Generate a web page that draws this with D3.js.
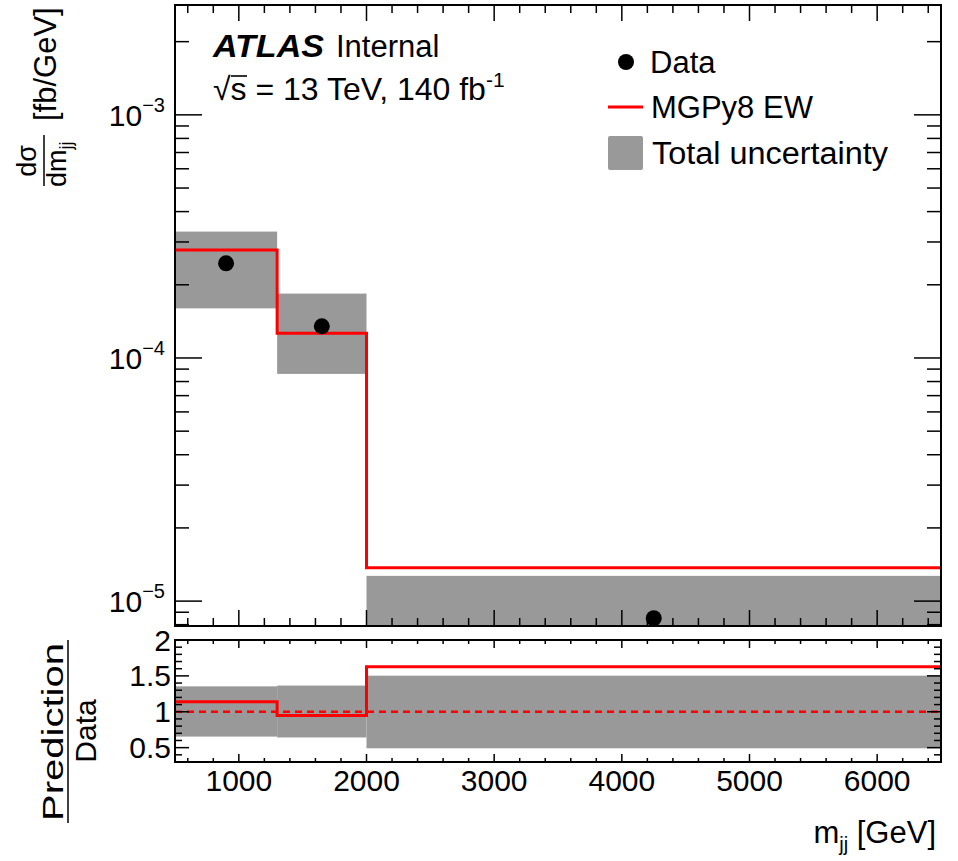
<!DOCTYPE html>
<html>
<head>
<meta charset="utf-8">
<script src="https://cdn.jsdelivr.net/npm/d3@7/dist/d3.min.js"></script>
<style>
  html, body { margin: 0; padding: 0; background: #fff; }
  svg { display: block; }
  text { font-family: "Liberation Sans", Arial, Helvetica, sans-serif; fill: #000; }
</style>
</head>
<body>
<svg id="chart" width="958" height="861"></svg>
<script>
// ---------------- data ----------------
const binEdges = [500, 1300, 2000, 6500];
const dataValues = [2.45e-4, 1.35e-4, 8.5e-6];
const dataCenters = [900, 1650, 4250];
const mcValues = [2.78e-4, 1.265e-4, 1.372e-5];
const uncUp = [3.31e-4, 1.84e-4, 1.27e-5];
const uncDown = [1.60e-4, 8.6e-5, 4.3e-6];
const ratioMC = [1.138, 0.949, 1.627];
const ratioUncUp = [1.354, 1.365, 1.503];
const ratioUncDown = [0.654, 0.642, 0.491];
const xTickLabels = [1000, 2000, 3000, 4000, 5000, 6000];
const yTickExponents = [-5, -4, -3];
const ratioTickLabels = [0.5, 1, 1.5, 2];

// ---------------- layout ----------------
const svg = d3.select("#chart");
const L = 175, R = 941;
const mainTop = 5, mainBot = 626;
const ratTop = 640, ratBot = 762;
const RED = "#ff0000", GREY = "#999999";
const FONT = 30;

const x = d3.scaleLinear().domain([500, 6500]).range([L, R]);
const y = d3.scaleLog().domain([7.9e-6, 2.83e-3]).range([mainBot, mainTop]);
const yr = d3.scaleLinear().domain([0.3, 2.0]).range([ratBot, ratTop]);

const defs = svg.append("defs");
defs.append("clipPath").attr("id", "clipMain").append("rect")
  .attr("x", L).attr("y", mainTop).attr("width", R - L).attr("height", mainBot - mainTop);
defs.append("clipPath").attr("id", "clipRat").append("rect")
  .attr("x", L).attr("y", ratTop).attr("width", R - L).attr("height", ratBot - ratTop);

const bins = d3.range(dataValues.length).map(i => ({
  lo: binEdges[i], hi: binEdges[i + 1], data: dataValues[i], c: dataCenters[i],
  mc: mcValues[i], up: uncUp[i], dn: uncDown[i],
  rmc: ratioMC[i], rup: ratioUncUp[i], rdn: ratioUncDown[i]
}));

// ---------------- main panel ----------------
const gMain = svg.append("g").attr("clip-path", "url(#clipMain)");
gMain.selectAll("rect.band").data(bins).join("rect").attr("class", "band")
  .attr("x", d => x(d.lo)).attr("width", d => x(d.hi) - x(d.lo))
  .attr("y", d => y(d.up)).attr("height", d => y(d.dn) - y(d.up))
  .attr("fill", GREY);

const stepPts = bins.map(d => [d.lo, d.mc]).concat([[binEdges[binEdges.length - 1], mcValues[mcValues.length - 1]]]);
gMain.append("path")
  .attr("d", d3.line().x(d => x(d[0])).y(d => y(d[1])).curve(d3.curveStepAfter)(stepPts))
  .attr("fill", "none").attr("stroke", RED).attr("stroke-width", 3);

// ticks main
function minorLog() {
  const out = [];
  for (let e = -6; e <= -2; e++) for (let k = 2; k <= 9; k++) {
    const v = k * Math.pow(10, e);
    if (v > y.domain()[0] && v < y.domain()[1]) out.push(v);
  }
  return out;
}
const xMajor = d3.range(1000, 6501, 1000);
const xMinor = d3.range(600, 6500, 200).filter(v => v % 1000 !== 0);
const yMajor = yTickExponents.map(e => Math.pow(10, e));
const yMinor = minorLog();

function drawTicks(g, vals, scale, orient, len, stroke) {
  const top = +g.attr("data-top"), bot = +g.attr("data-bot");
  const horiz = orient === "bottom" || orient === "top";
  g.selectAll(null).data(vals).join("line")
    .attr("x1", d => horiz ? scale(d) : (orient === "left" ? L : R))
    .attr("x2", d => horiz ? scale(d) : (orient === "left" ? L + len : R - len))
    .attr("y1", d => horiz ? (orient === "bottom" ? bot : top) : scale(d))
    .attr("y2", d => horiz ? (orient === "bottom" ? bot - len : top + len) : scale(d))
    .attr("stroke", "#000").attr("stroke-width", stroke);
}

const tMain = svg.append("g").attr("data-bot", mainBot).attr("data-top", mainTop);
drawTicks(tMain, xMajor, x, "bottom", 16, 1.5);
drawTicks(tMain, xMinor, x, "bottom", 8, 1.5);
drawTicks(tMain, xMajor, x, "top", 16, 1.5);
drawTicks(tMain, xMinor, x, "top", 8, 1.5);
drawTicks(tMain, yMajor, y, "left", 27, 1.5);
drawTicks(tMain, yMinor, y, "left", 14, 1.5);
drawTicks(tMain, yMajor, y, "right", 27, 1.5);
drawTicks(tMain, yMinor, y, "right", 14, 1.5);

// data points (drawn above ticks)
svg.append("g").attr("clip-path", "url(#clipMain)")
  .selectAll("circle").data(bins).join("circle")
  .attr("cx", d => x(d.c)).attr("cy", d => y(d.data)).attr("r", 8).attr("fill", "#000");

svg.append("rect").attr("x", L).attr("y", mainTop).attr("width", R - L).attr("height", mainBot - mainTop)
  .attr("fill", "none").attr("stroke", "#000").attr("stroke-width", 2);

// y tick labels (10^n)
const yLab = svg.append("g");
yTickExponents.forEach(e => {
  const t = yLab.append("text").attr("x", 165).attr("y", y(Math.pow(10, e)) + 11)
    .attr("text-anchor", "end").attr("font-size", FONT);
  t.append("tspan").text("10");
  t.append("tspan").attr("font-size", 20).attr("dy", -14).text("\u2212" + Math.abs(e));
});

// ---------------- ratio panel ----------------
const gRat = svg.append("g").attr("clip-path", "url(#clipRat)");
gRat.selectAll("rect.band").data(bins).join("rect").attr("class", "band")
  .attr("x", d => x(d.lo)).attr("width", d => x(d.hi) - x(d.lo))
  .attr("y", d => yr(d.rup)).attr("height", d => yr(d.rdn) - yr(d.rup))
  .attr("fill", GREY);
gRat.append("line").attr("x1", L).attr("x2", R).attr("y1", yr(1)).attr("y2", yr(1))
  .attr("stroke", RED).attr("stroke-width", 2.5).attr("stroke-dasharray", "7,5");
const rStep = bins.map(d => [d.lo, d.rmc]).concat([[binEdges[binEdges.length - 1], ratioMC[ratioMC.length - 1]]]);
gRat.append("path")
  .attr("d", d3.line().x(d => x(d[0])).y(d => yr(d[1])).curve(d3.curveStepAfter)(rStep))
  .attr("fill", "none").attr("stroke", RED).attr("stroke-width", 3);

const rMajor = ratioTickLabels;
const rMinor = d3.range(0.4, 2.0, 0.1).map(v => +v.toFixed(2)).filter(v => !rMajor.includes(v));
const tRat = svg.append("g").attr("data-bot", ratBot).attr("data-top", ratTop);
drawTicks(tRat, xMajor, x, "bottom", 8, 1.5);
drawTicks(tRat, xMinor, x, "bottom", 4, 1.5);
drawTicks(tRat, xMajor, x, "top", 8, 1.5);
drawTicks(tRat, xMinor, x, "top", 4, 1.5);
drawTicks(tRat, rMajor, yr, "left", 14, 1.5);
drawTicks(tRat, rMinor, yr, "left", 7, 1.5);
drawTicks(tRat, rMajor, yr, "right", 14, 1.5);
drawTicks(tRat, rMinor, yr, "right", 7, 1.5);

svg.append("rect").attr("x", L).attr("y", ratTop).attr("width", R - L).attr("height", ratBot - ratTop)
  .attr("fill", "none").attr("stroke", "#000").attr("stroke-width", 2);

svg.append("g").selectAll("text").data(ratioTickLabels).join("text")
  .attr("x", 171).attr("y", d => yr(d) + 10.5).attr("text-anchor", "end")
  .attr("font-size", FONT).text(d => String(d));

svg.append("g").selectAll("text").data(xTickLabels).join("text")
  .attr("x", d => x(d)).attr("y", 791).attr("text-anchor", "middle")
  .attr("font-size", FONT).text(d => String(d));

// ---------------- axis titles ----------------
const xt = svg.append("text").attr("x", 936).attr("y", 843).attr("text-anchor", "end").attr("font-size", 31);
xt.append("tspan").text("m");
xt.append("tspan").attr("font-size", 20).attr("dy", 8).text("jj");
xt.append("tspan").attr("dy", -8).text(" [GeV]");

// main y title
const yt = svg.append("g").attr("transform", "rotate(-90)");
yt.append("text").attr("x", -121).attr("y", 56).attr("font-size", 31).text("[fb/GeV]");
yt.append("text").attr("x", -161).attr("y", 36).attr("text-anchor", "middle").attr("font-size", 27).text("d\u03c3");
yt.append("line").attr("x1", -135).attr("x2", -186).attr("y1", 44).attr("y2", 44).attr("stroke", "#000").attr("stroke-width", 1.5);
const den = yt.append("text").attr("x", -187).attr("y", 66).attr("font-size", 27);
den.append("tspan").text("dm");
den.append("tspan").attr("font-size", 18).attr("dy", 6).text("jj");

// ratio y title
const rt = svg.append("g").attr("transform", "rotate(-90)");
rt.append("text").attr("x", -821).attr("y", 63).attr("font-size", FONT)
  .attr("textLength", 178).attr("lengthAdjust", "spacingAndGlyphs").text("Prediction");
rt.append("line").attr("x1", -640).attr("x2", -823).attr("y1", 68).attr("y2", 68).attr("stroke", "#000").attr("stroke-width", 1.5);
rt.append("text").attr("x", -731).attr("y", 96).attr("text-anchor", "middle").attr("font-size", FONT).text("Data");

// ---------------- labels ----------------
const at = svg.append("text").attr("x", 213).attr("y", 57).attr("font-size", 31);
at.append("tspan").attr("font-weight", "bold").attr("font-style", "italic")
  .attr("textLength", 111).attr("lengthAdjust", "spacingAndGlyphs").text("ATLAS");
at.append("tspan").attr("x", 336).text("Internal");

const en = svg.append("text").attr("x", 213).attr("y", 100).attr("font-size", 32);
en.append("tspan").text("\u221As = 13 TeV, 140 fb");
en.append("tspan").attr("font-size", 21).attr("dy", -13).text("-1");
// overline of the square root over "s"
const sqrtBox = en.node().getBBox();
svg.append("line").attr("x1", 231).attr("x2", 247).attr("y1", 76).attr("y2", 76)
  .attr("stroke", "#000").attr("stroke-width", 1.6);

// ---------------- legend ----------------
const lg = svg.append("g");
lg.append("circle").attr("cx", 626).attr("cy", 62).attr("r", 8).attr("fill", "#000");
lg.append("text").attr("x", 650).attr("y", 73).attr("font-size", 31).text("Data");
lg.append("line").attr("x1", 608).attr("x2", 643).attr("y1", 107).attr("y2", 107).attr("stroke", RED).attr("stroke-width", 3);
lg.append("text").attr("x", 651).attr("y", 118).attr("font-size", 31).text("MGPy8 EW");
lg.append("rect").attr("x", 608).attr("y", 136).attr("width", 35).attr("height", 34).attr("rx", 2).attr("fill", GREY);
lg.append("text").attr("x", 652).attr("y", 164).attr("font-size", 31)
  .attr("textLength", 236).attr("lengthAdjust", "spacingAndGlyphs").text("Total uncertainty");
</script>
</body>
</html>
